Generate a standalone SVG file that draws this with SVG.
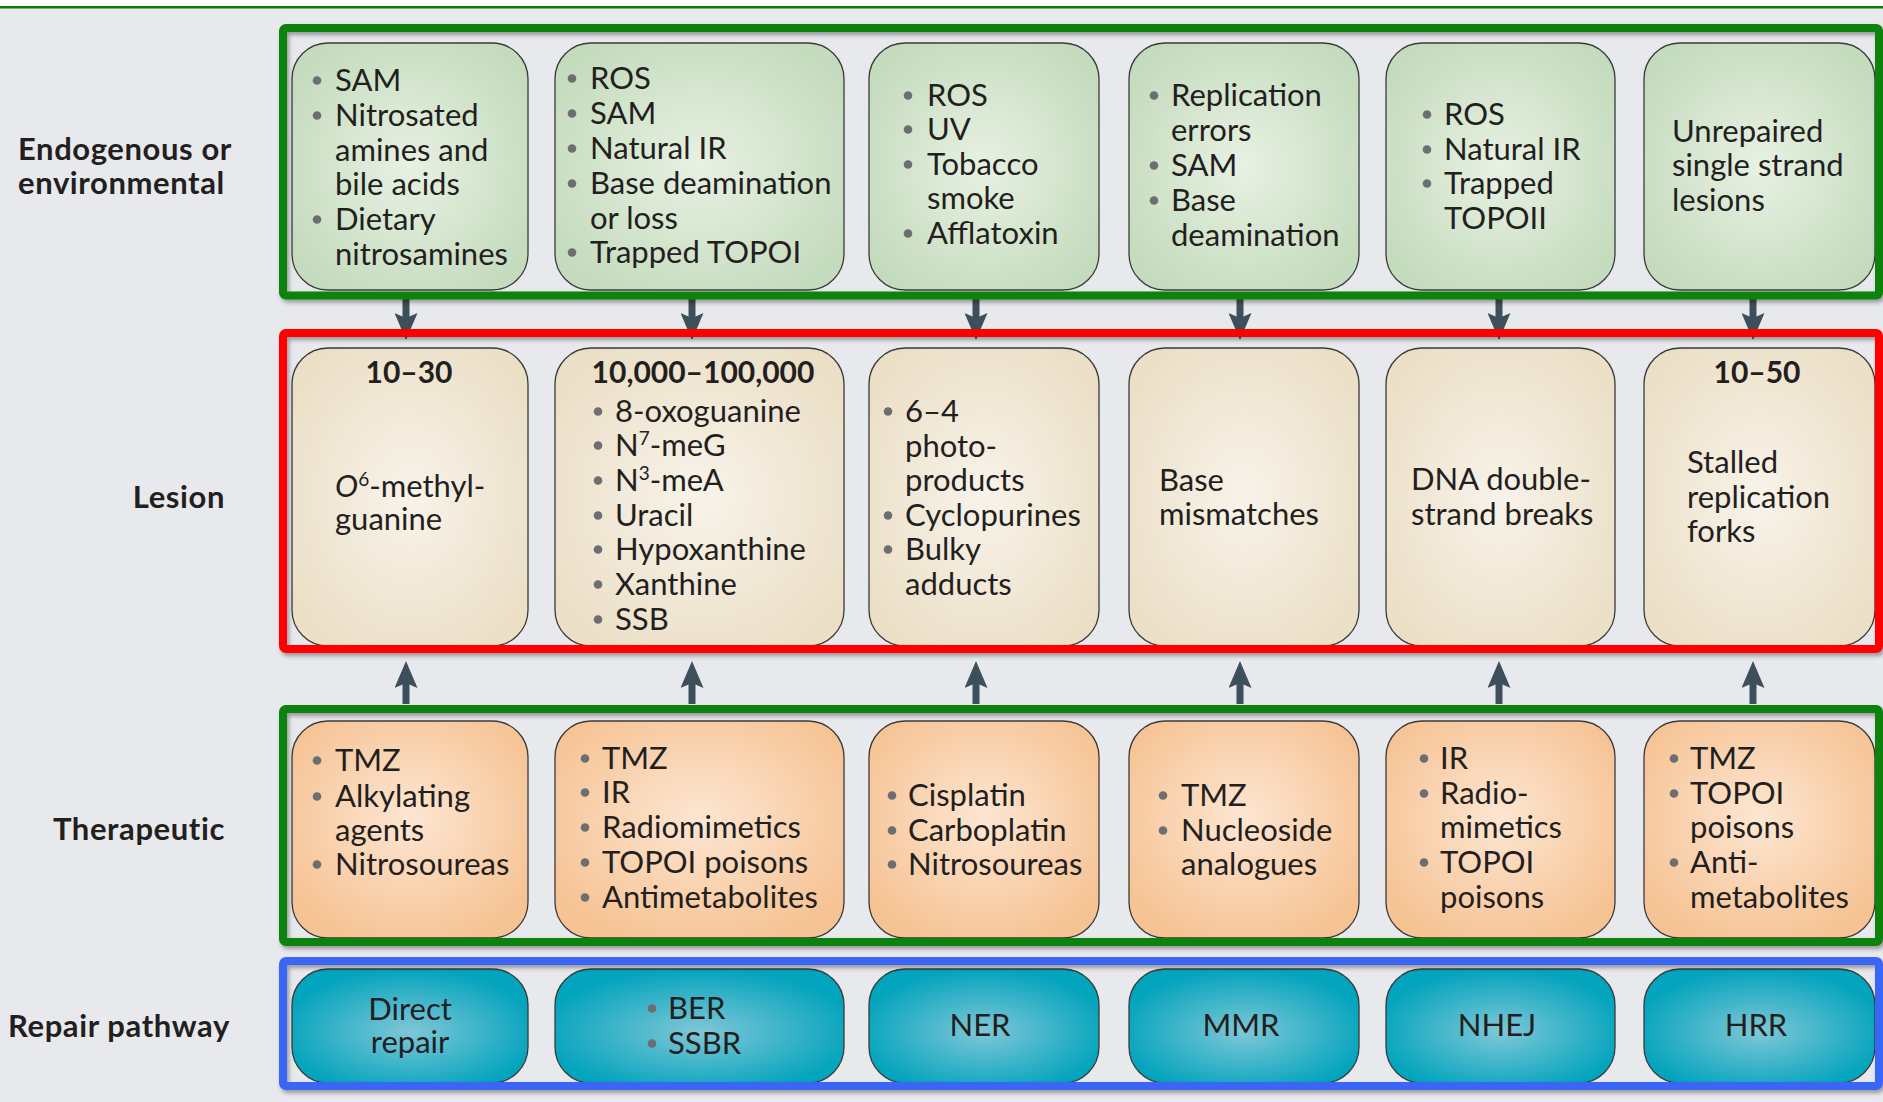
<svg xmlns="http://www.w3.org/2000/svg" width="1883" height="1102" viewBox="0 0 1883 1102">
<defs>
<style>
.t{font-family:Lato,"Open Sans","Liberation Sans",sans-serif;font-size:31px;fill:#231f20}
.c{text-anchor:middle}
.bd{font-weight:bold;font-size:30px}
.lbl{font-family:Lato,"Open Sans","Liberation Sans",sans-serif;font-size:31px;font-weight:bold;letter-spacing:0.6px;fill:#231f20}
.bul{fill:#6d6e71}
.frame{fill:none;stroke-width:8;filter:url(#sh)}
.box{stroke:#3a3a3a;stroke-width:1.3}
.arr{stroke:#3d4f5b;stroke-width:7;fill:none;marker-end:url(#ah)}
</style>
<filter id="sh" x="-5%" y="-5%" width="110%" height="115%">
<feDropShadow dx="2" dy="3" stdDeviation="2" flood-color="#000" flood-opacity="0.35"/>
</filter>
<marker id="ah" markerUnits="userSpaceOnUse" markerWidth="27" markerHeight="23" viewBox="0 0 27 23" refX="5" refY="11.5" orient="auto">
<path d="M0,0 L27,11.5 L0,23 L5,11.5 Z" fill="#3d4f5b"/>
</marker>
<radialGradient id="gGreen" cx="50%" cy="50%" r="60%">
<stop offset="0" stop-color="#e8f1e3"/><stop offset="1" stop-color="#c4dbbd"/>
</radialGradient>
<radialGradient id="gTan" cx="50%" cy="50%" r="60%">
<stop offset="0" stop-color="#f8f3ea"/><stop offset="1" stop-color="#ebdfc6"/>
</radialGradient>
<radialGradient id="gOrange" cx="50%" cy="45%" r="60%">
<stop offset="0" stop-color="#fde6d2"/><stop offset="1" stop-color="#f6c394"/>
</radialGradient>
<radialGradient id="gTeal" cx="50%" cy="55%" r="55%">
<stop offset="0" stop-color="#7fc7d7"/><stop offset="1" stop-color="#03a4bd"/>
</radialGradient>
</defs>

<rect x="0" y="0" width="1883" height="1102" fill="#e8e9ed"/>
<rect x="0" y="0" width="1883" height="6" fill="#ffffff"/>
<rect x="0" y="6" width="1883" height="2.5" fill="#0b7f0b"/>

<g id="row-labels">
<text class="lbl" x="18" y="160">Endogenous or</text>
<text class="lbl" x="18" y="194">environmental</text>
<text class="lbl" x="225" y="508" text-anchor="end">Lesion</text>
<text class="lbl" x="225" y="840" text-anchor="end">Therapeutic</text>
<text class="lbl" x="8" y="1037">Repair pathway</text>
</g>

<g id="connectors">
<line class="arr" x1="406" y1="299" x2="406" y2="318"/>
<line class="arr" x1="692" y1="299" x2="692" y2="318"/>
<line class="arr" x1="976" y1="299" x2="976" y2="318"/>
<line class="arr" x1="1240" y1="299" x2="1240" y2="318"/>
<line class="arr" x1="1499" y1="299" x2="1499" y2="318"/>
<line class="arr" x1="1753" y1="299" x2="1753" y2="318"/>
<line class="arr" x1="406" y1="704" x2="406" y2="683"/>
<line class="arr" x1="692" y1="704" x2="692" y2="683"/>
<line class="arr" x1="976" y1="704" x2="976" y2="683"/>
<line class="arr" x1="1240" y1="704" x2="1240" y2="683"/>
<line class="arr" x1="1499" y1="704" x2="1499" y2="683"/>
<line class="arr" x1="1753" y1="704" x2="1753" y2="683"/>
</g>

<!-- Row 1: endogenous -->
<g id="endo-1">
<rect class="box" x="292" y="43" width="236" height="247" rx="36" fill="url(#gGreen)"/>
<circle class="bul" cx="317" cy="80.5" r="4.3"/><text class="t" x="335" y="91">SAM</text>
<circle class="bul" cx="317" cy="115.5" r="4.3"/><text class="t" x="335" y="126">Nitrosated</text>
<text class="t" x="335" y="161">amines and</text>
<text class="t" x="335" y="195">bile acids</text>
<circle class="bul" cx="317" cy="219.5" r="4.3"/><text class="t" x="335" y="230">Dietary</text>
<text class="t" x="335" y="265">nitrosamines</text>
</g>
<g id="endo-2">
<rect class="box" x="555" y="43" width="289" height="247" rx="36" fill="url(#gGreen)"/>
<circle class="bul" cx="572" cy="78.5" r="4.3"/><text class="t" x="590" y="89">ROS</text>
<circle class="bul" cx="572" cy="113.5" r="4.3"/><text class="t" x="590" y="124">SAM</text>
<circle class="bul" cx="572" cy="148.5" r="4.3"/><text class="t" x="590" y="159">Natural IR</text>
<circle class="bul" cx="572" cy="183.5" r="4.3"/><text class="t" x="590" y="194">Base deamination</text>
<text class="t" x="590" y="229">or loss</text>
<circle class="bul" cx="572" cy="252.5" r="4.3"/><text class="t" x="590" y="263">Trapped TOPOI</text>
</g>
<g id="endo-3">
<rect class="box" x="869" y="43" width="230" height="247" rx="36" fill="url(#gGreen)"/>
<circle class="bul" cx="908" cy="95.5" r="4.3"/><text class="t" x="927" y="106">ROS</text>
<circle class="bul" cx="908" cy="129.5" r="4.3"/><text class="t" x="927" y="140">UV</text>
<circle class="bul" cx="908" cy="164.5" r="4.3"/><text class="t" x="927" y="175">Tobacco</text>
<text class="t" x="927" y="209">smoke</text>
<circle class="bul" cx="908" cy="233.5" r="4.3"/><text class="t" x="927" y="244">Afflatoxin</text>
</g>
<g id="endo-4">
<rect class="box" x="1129" y="43" width="230" height="247" rx="36" fill="url(#gGreen)"/>
<circle class="bul" cx="1154" cy="95.5" r="4.3"/><text class="t" x="1171" y="106">Replication</text>
<text class="t" x="1171" y="141">errors</text>
<circle class="bul" cx="1154" cy="165.5" r="4.3"/><text class="t" x="1171" y="176">SAM</text>
<circle class="bul" cx="1154" cy="200.5" r="4.3"/><text class="t" x="1171" y="211">Base</text>
<text class="t" x="1171" y="246">deamination</text>
</g>
<g id="endo-5">
<rect class="box" x="1386" y="43" width="229" height="247" rx="36" fill="url(#gGreen)"/>
<circle class="bul" cx="1427" cy="114.5" r="4.3"/><text class="t" x="1444" y="125">ROS</text>
<circle class="bul" cx="1427" cy="149.5" r="4.3"/><text class="t" x="1444" y="160">Natural IR</text>
<circle class="bul" cx="1427" cy="183.5" r="4.3"/><text class="t" x="1444" y="194">Trapped</text>
<text class="t" x="1444" y="229">TOPOII</text>
</g>
<g id="endo-6">
<rect class="box" x="1644" y="43" width="231" height="247" rx="36" fill="url(#gGreen)"/>
<text class="t" x="1672" y="142">Unrepaired</text>
<text class="t" x="1672" y="176">single strand</text>
<text class="t" x="1672" y="211">lesions</text>
</g>

<!-- Row 2: lesions -->
<g id="lesion-1">
<rect class="box" x="292" y="348" width="236" height="298" rx="36" fill="url(#gTan)"/>
<text class="t bd c" x="409" y="383">10–30</text>
<text class="t" x="335" y="497"><tspan font-style="italic">O</tspan><tspan font-size="19" dy="-11">6</tspan><tspan dy="11">-methyl-</tspan></text>
<text class="t" x="335" y="530">guanine</text>
</g>
<g id="lesion-2">
<rect class="box" x="555" y="348" width="289" height="298" rx="36" fill="url(#gTan)"/>
<text class="t bd c" x="703" y="383">10,000–100,000</text>
<circle class="bul" cx="598" cy="411.5" r="4.3"/><text class="t" x="615" y="422">8-oxoguanine</text>
<circle class="bul" cx="598" cy="445.5" r="4.3"/><text class="t" x="615" y="456">N<tspan font-size="19" dy="-11">7</tspan><tspan dy="11">-meG</tspan></text>
<circle class="bul" cx="598" cy="480.5" r="4.3"/><text class="t" x="615" y="491">N<tspan font-size="19" dy="-11">3</tspan><tspan dy="11">-meA</tspan></text>
<circle class="bul" cx="598" cy="515.5" r="4.3"/><text class="t" x="615" y="526">Uracil</text>
<circle class="bul" cx="598" cy="549.5" r="4.3"/><text class="t" x="615" y="560">Hypoxanthine</text>
<circle class="bul" cx="598" cy="584.5" r="4.3"/><text class="t" x="615" y="595">Xanthine</text>
<circle class="bul" cx="598" cy="619.5" r="4.3"/><text class="t" x="615" y="630">SSB</text>
</g>
<g id="lesion-3">
<rect class="box" x="869" y="348" width="230" height="298" rx="36" fill="url(#gTan)"/>
<circle class="bul" cx="888" cy="411.5" r="4.3"/><text class="t" x="905" y="422">6–4</text>
<text class="t" x="905" y="457">photo-</text>
<text class="t" x="905" y="491">products</text>
<circle class="bul" cx="888" cy="515.5" r="4.3"/><text class="t" x="905" y="526">Cyclopurines</text>
<circle class="bul" cx="888" cy="549.5" r="4.3"/><text class="t" x="905" y="560">Bulky</text>
<text class="t" x="905" y="595">adducts</text>
</g>
<g id="lesion-4">
<rect class="box" x="1129" y="348" width="230" height="298" rx="36" fill="url(#gTan)"/>
<text class="t" x="1159" y="491">Base</text>
<text class="t" x="1159" y="525">mismatches</text>
</g>
<g id="lesion-5">
<rect class="box" x="1386" y="348" width="229" height="298" rx="36" fill="url(#gTan)"/>
<text class="t" x="1411" y="490">DNA double-</text>
<text class="t" x="1411" y="525">strand breaks</text>
</g>
<g id="lesion-6">
<rect class="box" x="1644" y="348" width="231" height="298" rx="36" fill="url(#gTan)"/>
<text class="t bd c" x="1757" y="383">10–50</text>
<text class="t" x="1687" y="473">Stalled</text>
<text class="t" x="1687" y="508">replication</text>
<text class="t" x="1687" y="542">forks</text>
</g>

<!-- Row 3: therapeutic -->
<g id="thera-1">
<rect class="box" x="292" y="721" width="236" height="217" rx="36" fill="url(#gOrange)"/>
<circle class="bul" cx="317" cy="760.5" r="4.3"/><text class="t" x="335" y="771">TMZ</text>
<circle class="bul" cx="317" cy="796.5" r="4.3"/><text class="t" x="335" y="807">Alkylating</text>
<text class="t" x="335" y="841">agents</text>
<circle class="bul" cx="317" cy="864.5" r="4.3"/><text class="t" x="335" y="875">Nitrosoureas</text>
</g>
<g id="thera-2">
<rect class="box" x="555" y="721" width="289" height="217" rx="36" fill="url(#gOrange)"/>
<circle class="bul" cx="585" cy="758.5" r="4.3"/><text class="t" x="602" y="769">TMZ</text>
<circle class="bul" cx="585" cy="792.5" r="4.3"/><text class="t" x="602" y="803">IR</text>
<circle class="bul" cx="585" cy="827.5" r="4.3"/><text class="t" x="602" y="838">Radiomimetics</text>
<circle class="bul" cx="585" cy="862.5" r="4.3"/><text class="t" x="602" y="873">TOPOI poisons</text>
<circle class="bul" cx="585" cy="897.5" r="4.3"/><text class="t" x="602" y="908">Antimetabolites</text>
</g>
<g id="thera-3">
<rect class="box" x="869" y="721" width="230" height="217" rx="36" fill="url(#gOrange)"/>
<circle class="bul" cx="892" cy="795.5" r="4.3"/><text class="t" x="908" y="806">Cisplatin</text>
<circle class="bul" cx="892" cy="830.5" r="4.3"/><text class="t" x="908" y="841">Carboplatin</text>
<circle class="bul" cx="892" cy="864.5" r="4.3"/><text class="t" x="908" y="875">Nitrosoureas</text>
</g>
<g id="thera-4">
<rect class="box" x="1129" y="721" width="230" height="217" rx="36" fill="url(#gOrange)"/>
<circle class="bul" cx="1163" cy="795.5" r="4.3"/><text class="t" x="1181" y="806">TMZ</text>
<circle class="bul" cx="1163" cy="830.5" r="4.3"/><text class="t" x="1181" y="841">Nucleoside</text>
<text class="t" x="1181" y="875">analogues</text>
</g>
<g id="thera-5">
<rect class="box" x="1386" y="721" width="229" height="217" rx="36" fill="url(#gOrange)"/>
<circle class="bul" cx="1424" cy="758.5" r="4.3"/><text class="t" x="1440" y="769">IR</text>
<circle class="bul" cx="1424" cy="793.5" r="4.3"/><text class="t" x="1440" y="804">Radio-</text>
<text class="t" x="1440" y="838">mimetics</text>
<circle class="bul" cx="1424" cy="862.5" r="4.3"/><text class="t" x="1440" y="873">TOPOI</text>
<text class="t" x="1440" y="908">poisons</text>
</g>
<g id="thera-6">
<rect class="box" x="1644" y="721" width="231" height="217" rx="36" fill="url(#gOrange)"/>
<circle class="bul" cx="1674" cy="758.5" r="4.3"/><text class="t" x="1690" y="769">TMZ</text>
<circle class="bul" cx="1674" cy="793.5" r="4.3"/><text class="t" x="1690" y="804">TOPOI</text>
<text class="t" x="1690" y="838">poisons</text>
<circle class="bul" cx="1674" cy="862.5" r="4.3"/><text class="t" x="1690" y="873">Anti-</text>
<text class="t" x="1690" y="908">metabolites</text>
</g>

<!-- Row 4: repair pathway -->
<g id="repair-1">
<rect class="box" x="292" y="969" width="236" height="114" rx="36" fill="url(#gTeal)"/>
<text class="t c" x="410" y="1020">Direct</text>
<text class="t c" x="410" y="1053">repair</text>
</g>
<g id="repair-2">
<rect class="box" x="555" y="969" width="289" height="114" rx="36" fill="url(#gTeal)"/>
<circle class="bul" cx="652" cy="1008.5" r="4.3"/><text class="t" x="668" y="1019">BER</text>
<circle class="bul" cx="652" cy="1043.5" r="4.3"/><text class="t" x="668" y="1054">SSBR</text>
</g>
<g id="repair-3">
<rect class="box" x="869" y="969" width="230" height="114" rx="36" fill="url(#gTeal)"/>
<text class="t c" x="980" y="1036">NER</text>
</g>
<g id="repair-4">
<rect class="box" x="1129" y="969" width="230" height="114" rx="36" fill="url(#gTeal)"/>
<text class="t c" x="1241" y="1036">MMR</text>
</g>
<g id="repair-5">
<rect class="box" x="1386" y="969" width="229" height="114" rx="36" fill="url(#gTeal)"/>
<text class="t c" x="1497" y="1036">NHEJ</text>
</g>
<g id="repair-6">
<rect class="box" x="1644" y="969" width="231" height="114" rx="36" fill="url(#gTeal)"/>
<text class="t c" x="1756" y="1036">HRR</text>
</g>

<g id="frames">
<rect class="frame" x="283" y="28" width="1596" height="267.5" rx="3" stroke="#078207"/>
<rect class="frame" x="283" y="333" width="1596" height="316" rx="3" stroke="#ff0000"/>
<rect class="frame" x="283" y="709" width="1596" height="233" rx="3" stroke="#078207"/>
<rect class="frame" x="283" y="961" width="1596" height="125" rx="3" stroke="#3a66f5"/>
</g>
</svg>
